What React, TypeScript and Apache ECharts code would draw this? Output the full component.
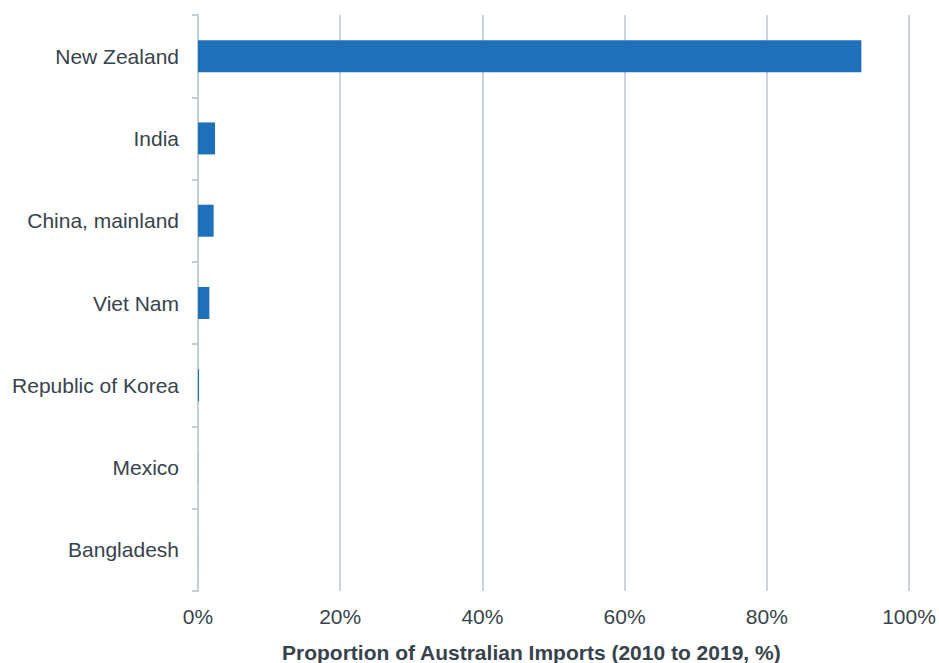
import React, { useEffect, useRef } from "react";
import * as echarts from "echarts";

const countries = [
  "New Zealand",
  "India",
  "China, mainland",
  "Viet Nam",
  "Republic of Korea",
  "Mexico",
  "Bangladesh",
];
const shares = [93.3, 2.4, 2.2, 1.6, 0.15, 0.02, 0.01];
const xTicks = [0, 20, 40, 60, 80, 100];
const axisTitle = "Proportion of Australian Imports (2010 to 2019, %)";

export default function App() {
  const ref = useRef<HTMLDivElement>(null);
  useEffect(() => {
    if (!ref.current) return;
    const chart = echarts.init(ref.current, null, { renderer: "svg" });
    const textColor = "#37434c";
    const font = "'Liberation Sans', Arial, Helvetica, sans-serif";
    chart.setOption({
      animation: false,
      grid: {
        left: 198,
        right: 30,
        top: 15,
        bottom: 72,
        containLabel: false,
        outerBoundsMode: "none",
      },
      xAxis: {
        type: "value",
        min: xTicks[0],
        max: xTicks[xTicks.length - 1],
        interval: 20,
        axisLine: { show: false },
        axisTick: { show: false },
        splitLine: { lineStyle: { color: "#cdd5dc", width: 2 } },
        axisLabel: {
          formatter: "{value}%",
          color: textColor,
          fontSize: 21,
          fontFamily: font,
          margin: 15,
        },
      },
      yAxis: {
        type: "category",
        data: countries,
        inverse: true,
        axisLine: { show: true, lineStyle: { color: "#c3cdd5", width: 2 } },
        axisTick: { show: true, length: 6, lineStyle: { color: "#c3cdd5", width: 2 } },
        axisLabel: {
          color: textColor,
          fontSize: 21,
          fontFamily: font,
          margin: 19,
        },
      },
      series: [
        {
          type: "bar",
          data: shares,
          barWidth: 32,
          itemStyle: { color: "#1e71b9" },
        },
      ],
      graphic: [
        {
          type: "text",
          left: 282,
          top: 642,
          style: {
            text: axisTitle,
            fill: textColor,
            fontSize: 21,
            fontWeight: "bold",
            fontFamily: font,
          },
        },
      ],
    });
    return () => chart.dispose();
  }, []);
  return <div ref={ref} style={{ width: 939, height: 663, position: "absolute", left: 0, top: 0 }} />;
}
